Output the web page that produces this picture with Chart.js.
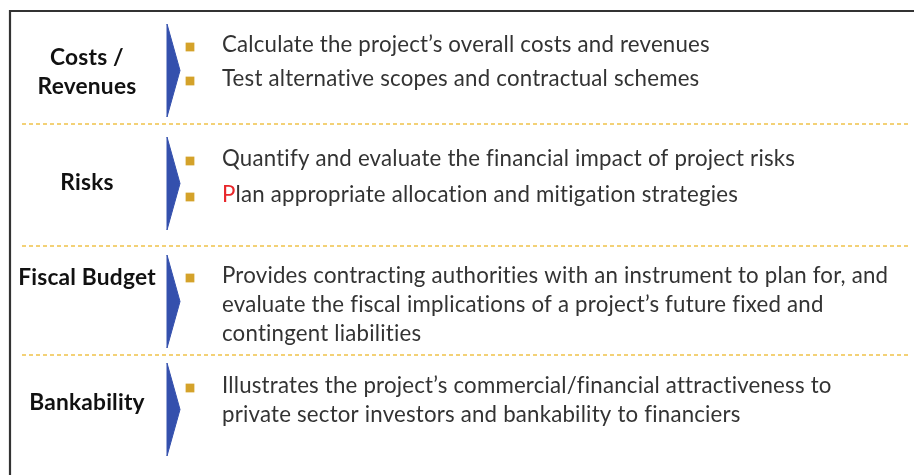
<!DOCTYPE html>
<html>
<head>
<meta charset="utf-8">
<script src="https://cdn.jsdelivr.net/npm/chart.js@4.4.0/dist/chart.umd.min.js"></script>
<style>
  html, body { margin: 0; background: #fff; }
  #wrap { width: 914px; height: 475px; position: relative; }
</style>
</head>
<body>
<div id="wrap"><canvas id="chart"></canvas></div>
<script>
// --- Content ---
const sectionLabels = [['Costs /', 'Revenues'], ['Risks'], ['Fiscal Budget'], ['Bankability']];
const sectionItems = [
    [['Calculate the project’s overall costs and revenues'],
     ['Test alternative scopes and contractual schemes']],
    [['Quantify and evaluate the financial impact of project risks'],
     ['Plan appropriate allocation and mitigation strategies']],
    [['Provides contracting authorities with an instrument to plan for, and',
      'evaluate the fiscal implications of a project’s future fixed and',
      'contingent liabilities']],
    [['Illustrates the project’s commercial/financial attractiveness to',
      'private sector investors and bankability to financiers']]
];
// first letter highlighted in red ("P" of "Plan")
const redPrefix = { '1-1': 'P' };

// --- Layout (diagram units = pixels, y downwards) ---
const FRAME = { x: 10, y: 11 };
const SEPARATORS = [124, 246, 355];
const CHEVRON_TOP = [24, 137, 255, 363];
const CHEVRON_H = 93;
const LABEL_Y = [[58, 87], [183], [278], [403]];
const ITEM_Y = [[45, 79], [159, 195], [276], [386]];
const LINE_GAP = 29;
const TEXT_X = 222;
const ITEM_W = 489;    // width of the first item line in the reference
const LABEL_W = 138;   // width of "Fiscal Budget"

const C = {
    frame: '#333333',
    dash: '#f0c24a',
    chevron: '#3450ad',
    bullet: '#d4a22a',
    text: '#333333',
    label: '#111111',
    red: '#e8262a'
};
const FAMILY = "Lato, 'Open Sans', sans-serif";

// bullets & separator/chevron datasets
const bulletPts = [];
ITEM_Y.forEach(ys => ys.forEach(y => bulletPts.push({ x: 190, y: y + 2 })));

const datasets = [];
// frame
datasets.push({
    type: 'line', data: [{ x: FRAME.x, y: 480 }, { x: FRAME.x, y: FRAME.y }, { x: 930, y: FRAME.y }],
    borderColor: C.frame, borderWidth: 2.2, pointRadius: 0, fill: false, tension: 0
});
SEPARATORS.forEach(y => datasets.push({
    type: 'line', data: [{ x: 22, y }, { x: 908, y }],
    borderColor: C.dash, borderWidth: 1.5, borderDash: [4, 3], pointRadius: 0, fill: false
}));
CHEVRON_TOP.forEach(t => datasets.push({
    type: 'line',
    data: [{ x: 167, y: t }, { x: 180, y: t + CHEVRON_H / 2 }, { x: 167, y: t + CHEVRON_H }, { x: 167, y: t }],
    borderColor: C.chevron, backgroundColor: C.chevron, borderWidth: 1, pointRadius: 0,
    fill: 'shape', tension: 0
}));
datasets.push({
    type: 'scatter', data: bulletPts, pointStyle: 'rect', pointRadius: 6.2,
    backgroundColor: C.bullet, borderWidth: 0
});

// fit a font size so that `sample` is `target` px wide
function fitSize(ctx, weight, sample, target) {
    ctx.font = `${weight} 20px ${FAMILY}`;
    return 20 * target / ctx.measureText(sample).width;
}

// --- Text plugin ---
const textPlugin = {
    id: 'texts',
    afterDatasetsDraw(chart) {
        const { ctx, scales: { x, y } } = chart;
        ctx.save();
        ctx.letterSpacing = '0.2px';   // also stops the "ti" ligature
        ctx.textBaseline = 'middle';
        // left labels
        const ls = fitSize(ctx, 'bold', sectionLabels[2][0], LABEL_W);
        ctx.font = `bold ${ls}px ${FAMILY}`;
        ctx.fillStyle = C.label;
        ctx.textAlign = 'center';
        sectionLabels.forEach((lines, i) => lines.forEach((t, j) => {
            ctx.fillText(t, x.getPixelForValue(87), y.getPixelForValue(LABEL_Y[i][j]));
        }));
        // item texts
        const is = fitSize(ctx, '', sectionItems[0][0][0], ITEM_W);
        ctx.font = `${is}px ${FAMILY}`;
        ctx.textAlign = 'left';
        sectionItems.forEach((items, i) => items.forEach((lines, j) => {
            lines.forEach((t, k) => {
                const px = x.getPixelForValue(TEXT_X);
                const py = y.getPixelForValue(ITEM_Y[i][j] + k * LINE_GAP);
                const pre = k === 0 ? redPrefix[i + '-' + j] : null;
                if (pre) {
                    ctx.fillStyle = C.red;
                    ctx.fillText(pre, px, py);
                    const w = ctx.measureText(pre).width;
                    ctx.fillStyle = C.text;
                    ctx.fillText(t.slice(pre.length), px + w, py);
                } else {
                    ctx.fillStyle = C.text;
                    ctx.fillText(t, px, py);
                }
            });
        }));
        ctx.restore();
    }
};

new Chart(document.getElementById('chart'), {
    type: 'scatter',
    data: { datasets },
    options: {
        responsive: true,
        maintainAspectRatio: false,
        animation: false,
        layout: { padding: 0, autoPadding: false },
        plugins: { legend: { display: false }, tooltip: { enabled: false } },
        scales: {
            x: { type: 'linear', min: 0, max: 914, display: false },
            y: { type: 'linear', min: 0, max: 475, reverse: true, display: false }
        }
    },
    plugins: [textPlugin]
});
</script>
</body>
</html>
